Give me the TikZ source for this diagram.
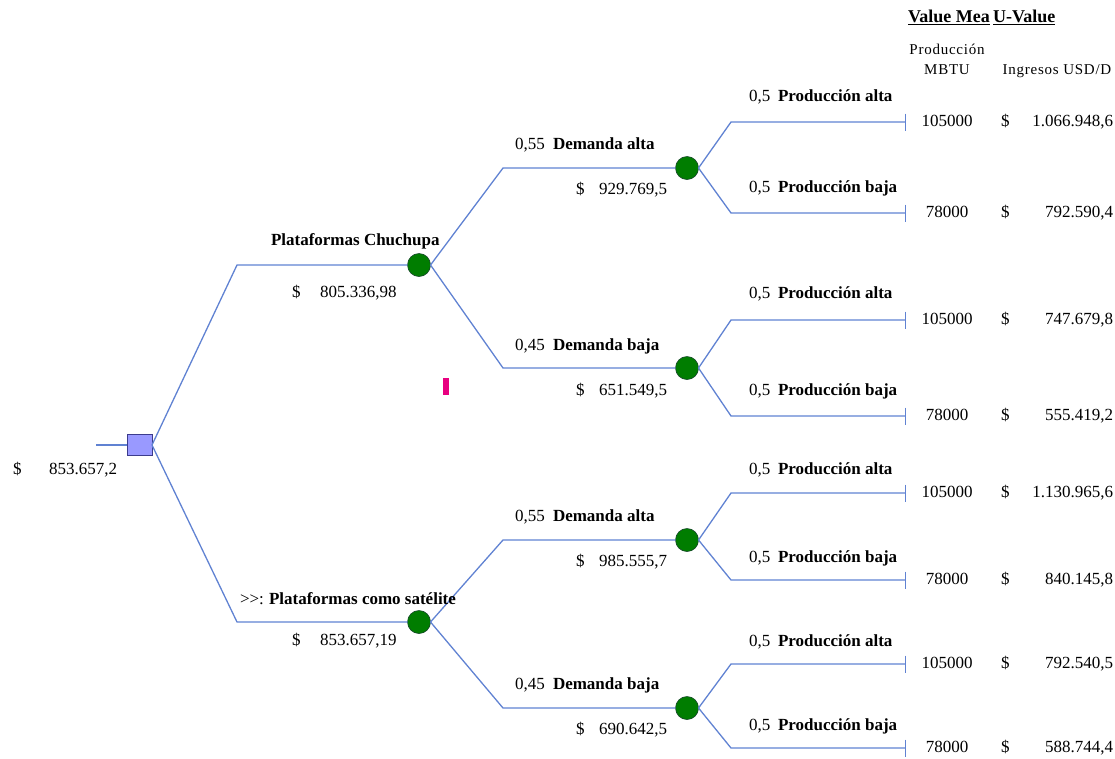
\documentclass[tikz,border=0pt]{standalone}
\usepackage{fontspec}
\setmainfont{Liberation Serif}
\usetikzlibrary{arrows.meta}
\definecolor{edgeblue}{RGB}{96,130,210}
\definecolor{chancefill}{RGB}{0,125,0}
\definecolor{chancedraw}{RGB}{20,70,40}
\definecolor{decfill}{RGB}{153,153,255}
\definecolor{decdraw}{RGB}{60,60,140}
\definecolor{pinkmark}{RGB}{232,0,128}
\begin{document}
\begin{tikzpicture}[x=1pt,y=-1pt,
  every node/.style={inner sep=0pt,outer sep=0pt,font=\fontsize{17}{19}\selectfont},
  edge/.style={draw=edgeblue,line width=1.3pt},
  term/.style={edge,-{Bar[width=17pt,line width=1.3pt]}},
  chance/.style={circle,fill=chancefill,draw=chancedraw,line width=0.6pt,minimum size=23pt},
  decision/.style={rectangle,fill=decfill,draw=decdraw,line width=0.9pt,minimum width=25pt,minimum height=21pt},
  lbl/.style={anchor=mid west,yshift=-2.5pt,font=\fontsize{17}{19}\selectfont\bfseries},
  txt/.style={anchor=mid west,yshift=-2.5pt},
  num/.style={anchor=mid east,yshift=-2.5pt},
  ctr/.style={anchor=mid,yshift=-2.5pt},
  head/.style={anchor=mid west,yshift=-2.5pt,font=\fontsize{18}{20}\selectfont\bfseries},
  small/.style={anchor=mid,yshift=-2.5pt,font=\fontsize{15}{17}\selectfont\addfontfeatures{LetterSpace=5}}
]
\useasboundingbox (0,0) rectangle (1115,758);

% decision node
\coordinate (in) at (96,445);
\node[decision] (D) at (139.5,445) {};
\draw[edge] (in) -- (D.west);

% first-level chance nodes
\node[chance] (C1) at (419,265) {};
\node[chance] (C2) at (419,622) {};
\coordinate (b1) at (237,265);
\coordinate (b2) at (237,622);
\draw[edge] (D.east) -- (b1) -- (C1.west);
\draw[edge] (D.east) -- (b2) -- (C2.west);

% second-level chance nodes
\node[chance] (C11) at (687,168) {};
\node[chance] (C12) at (687,368) {};
\node[chance] (C21) at (687,540) {};
\node[chance] (C22) at (687,708) {};
\coordinate (b11) at (503,168);
\coordinate (b12) at (503,368);
\coordinate (b21) at (503,540);
\coordinate (b22) at (503,708);
\draw[edge] (C1.east) -- (b11) -- (C11.west);
\draw[edge] (C1.east) -- (b12) -- (C12.west);
\draw[edge] (C2.east) -- (b21) -- (C21.west);
\draw[edge] (C2.east) -- (b22) -- (C22.west);

% terminals
\foreach \n/\ya/\yb in {C11/122/213, C12/320/416, C21/493/580, C22/664/748}{
  \coordinate (\n a) at (731,\ya);
  \coordinate (\n ta) at (906,\ya);
  \coordinate (\n b) at (731,\yb);
  \coordinate (\n tb) at (906,\yb);
  \draw[term] (\n.east) -- (\n a) -- (\n ta);
  \draw[term] (\n.east) -- (\n b) -- (\n tb);
}

% root value
\node[txt] (r1) at (13,470) {\$};
\node[txt] (r2) at (49,470) {853.657,2};

% first-level labels
\node[lbl] (l1) at (271,241) {Plataformas Chuchupa};
\node[txt] (v1a) at (292,293) {\$};
\node[txt] (v1b) at (320,293) {805.336,98};
\node[txt] (l2a) at (240,600) {{>}{>}:};
\node[lbl] (l2) at (269,600) {Plataformas como satélite};
\node[txt] (v2a) at (292,641) {\$};
\node[txt] (v2b) at (320,641) {853.657,19};

% second-level labels
\foreach \name/\y/\p/\lab/\val in {
  s11/145/{0,55}/{Demanda alta}/{929.769,5},
  s12/346/{0,45}/{Demanda baja}/{651.549,5},
  s21/517/{0,55}/{Demanda alta}/{985.555,7},
  s22/685/{0,45}/{Demanda baja}/{690.642,5}}{
  \node[txt] (\name p) at (515,\y) {\p};
  \node[lbl] (\name l) at (553,\y) {\lab};
  \node[txt] (\name d) at (576,\y+45) {\$};
  \node[txt] (\name v) at (599,\y+45) {\val};
}

% third-level labels
\foreach \name/\y/\lab in {
  t1/97/{Producción alta}, t2/188/{Producción baja},
  t3/294/{Producción alta}, t4/391/{Producción baja},
  t5/470/{Producción alta}, t6/558/{Producción baja},
  t7/642/{Producción alta}, t8/726/{Producción baja}}{
  \node[txt] (\name p) at (749,\y) {0,5};
  \node[lbl] (\name l) at (778,\y) {\lab};
}

% terminal values
\foreach \name/\y/\m/\val in {
  e1/122/105000/{1.066.948,6}, e2/213/78000/{792.590,4},
  e3/320/105000/{747.679,8}, e4/416/78000/{555.419,2},
  e5/493/105000/{1.130.965,6}, e6/580/78000/{840.145,8},
  e7/664/105000/{792.540,5}, e8/748/78000/{588.744,4}}{
  \node[ctr] (\name m) at (947,\y) {\m};
  \node[txt] (\name d) at (1001,\y) {\$};
  \node[num] (\name v) at (1113,\y) {\val};
}

% header
\node[head] (h1) at (908,18) {\underline{Value Mea}};
\node[head] (h2) at (993,18) {\underline{U-Value}};
\node[small] (h3) at (947,50) {Producción};
\node[small] (h4) at (947,70) {MBTU};
\node[small] (h5) at (1057,70) {Ingresos USD/D};

% pink mark
\fill[pinkmark] (443,378) rectangle (449,395);
\end{tikzpicture}
\end{document}
